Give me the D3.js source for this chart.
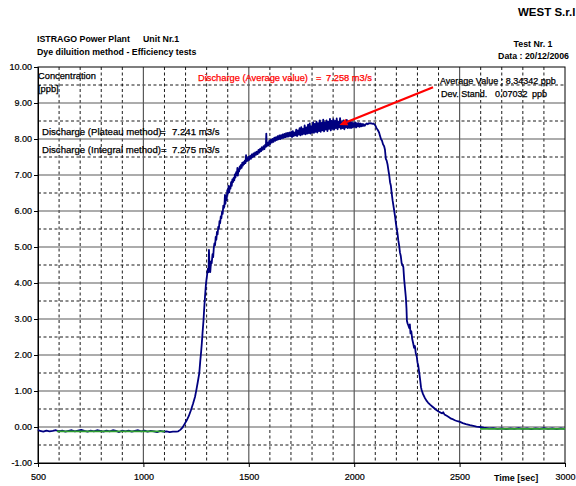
<!DOCTYPE html>
<html><head><meta charset="utf-8">
<script src="https://cdn.jsdelivr.net/npm/d3@7"></script>
<style>
body{margin:0;background:#fff;}
svg{display:block;font-family:"Liberation Sans",Arial,sans-serif;}
</style></head><body>
<svg id="c" width="576" height="486"></svg>
<script>
// ---- Tick labels ----
const xTicks = [500, 1000, 1500, 2000, 2500, 3000];
const yTicks = [-1, 0, 1, 2, 3, 4, 5, 6, 7, 8, 9, 10];

// ---- Measured dye concentration [time sec, ppb] ----
const baselineLeft = [[500,-0.08],[510,-0.11],[525,-0.13],[540,-0.10],[555,-0.12],[570,-0.11],[585,-0.09],[600,-0.12],[615,-0.10],[630,-0.13],[645,-0.11],[660,-0.09],[675,-0.12],[690,-0.10],[705,-0.08],[720,-0.11],[735,-0.13],[750,-0.10],[765,-0.12],[780,-0.09],[795,-0.11],[810,-0.13],[825,-0.10],[840,-0.12],[855,-0.09],[870,-0.11],[885,-0.14],[900,-0.10],[915,-0.12],[930,-0.10],[945,-0.13],[960,-0.11],[975,-0.09],[990,-0.12],[1005,-0.10],[1020,-0.13],[1035,-0.11],[1050,-0.12],[1065,-0.14],[1080,-0.11],[1095,-0.13],[1110,-0.12],[1125,-0.14],[1140,-0.13],[1155,-0.13]];
const rising = [[1165,-0.12],[1175,-0.08],[1185,-0.02],[1195,0.08],[1205,0.18],[1215,0.30],[1225,0.46],[1235,0.64],[1245,0.84],[1252,1.05],[1258,1.25],[1265,1.49],[1270,1.85],[1274,2.10],[1277,2.32],[1281,2.65],[1285,2.95],[1288,3.25],[1292,3.60],[1297,3.99],[1302,4.22],[1306,4.40],[1309,4.30],[1311,4.92],[1313,4.55],[1317,4.30],[1321,4.60],[1324,4.55],[1328,4.80],[1331,4.72],[1334,4.98],[1337,5.10],[1340,5.05],[1343,5.28],[1346,5.20],[1349,5.42],[1352,5.35],[1355,5.56],[1358,5.50],[1361,5.72],[1364,5.66],[1367,5.85],[1370,5.80],[1373,5.98],[1376,5.92],[1379,6.15],[1381,6.08],[1384,6.12],[1387,6.45],[1389,6.20],[1392,6.40],[1395,6.30],[1398,6.58],[1401,6.48],[1404,6.70],[1407,6.52],[1410,6.68],[1413,6.62],[1416,6.80],[1419,6.70],[1422,6.88],[1425,6.80],[1428,6.92],[1431,6.85],[1434,7.02],[1437,6.93],[1440,7.08],[1443,7.00],[1446,7.20],[1448,6.98],[1451,7.15],[1454,7.10],[1457,7.24],[1460,7.17],[1463,7.28],[1466,7.20],[1469,7.34],[1472,7.26],[1475,7.36],[1478,7.30],[1481,7.40],[1484,7.33],[1487,7.55],[1490,7.38],[1493,7.46],[1496,7.40],[1499,7.50],[1502,7.42],[1506,7.53],[1510,7.45],[1514,7.57],[1518,7.49],[1522,7.60],[1526,7.52],[1530,7.63],[1534,7.56],[1538,7.65],[1542,7.58],[1546,7.70],[1550,7.62],[1554,7.73],[1558,7.66],[1562,7.77],[1566,7.70],[1570,7.80],[1574,7.72],[1578,7.84],[1581,7.78],[1583,8.15],[1585,7.80],[1589,7.90],[1593,7.82],[1597,7.95],[1601,7.86],[1605,7.98],[1609,7.90],[1613,8.00],[1617,7.92],[1621,8.04],[1625,7.95],[1629,8.05],[1633,7.97],[1637,8.08],[1641,7.99],[1645,8.10],[1649,8.00],[1653,8.11],[1657,8.02],[1661,8.13],[1665,8.03],[1669,8.14],[1673,8.05],[1677,8.16],[1681,8.06],[1685,8.17],[1689,8.07],[1693,8.18],[1697,8.08]];
const plateau = [[1701,8.20],[1705,8.05],[1709,8.22],[1713,8.08],[1717,8.18],[1721,8.10],[1725,8.26],[1729,8.08],[1733,8.24],[1737,8.12],[1741,8.30],[1745,8.10],[1749,8.33],[1753,8.12],[1757,8.28],[1761,8.14],[1765,8.38],[1769,8.13],[1773,8.32],[1777,8.15],[1781,8.40],[1785,8.16],[1789,8.43],[1793,8.15],[1797,8.36],[1801,8.18],[1805,8.46],[1809,8.17],[1813,8.42],[1817,8.20],[1821,8.48],[1825,8.18],[1829,8.44],[1833,8.22],[1837,8.52],[1841,8.20],[1845,8.45],[1849,8.24],[1853,8.54],[1857,8.21],[1861,8.46],[1865,8.26],[1869,8.52],[1873,8.22],[1877,8.48],[1881,8.28],[1885,8.56],[1889,8.24],[1893,8.50],[1897,8.28],[1901,8.55],[1905,8.26],[1909,8.50],[1913,8.30],[1917,8.57],[1921,8.27],[1925,8.48],[1929,8.32],[1933,8.58],[1937,8.28],[1941,8.47],[1945,8.30],[1949,8.52],[1953,8.27],[1957,8.46],[1961,8.32],[1965,8.53],[1969,8.30],[1973,8.46],[1977,8.31],[1981,8.48],[1985,8.30],[1989,8.47],[1993,8.32],[1997,8.44],[2001,8.34],[2005,8.46],[2009,8.32],[2013,8.44],[2017,8.35],[2021,8.44],[2025,8.34],[2029,8.43],[2033,8.35],[2037,8.42],[2041,8.36],[2045,8.41],[2050,8.37],[2055,8.41],[2060,8.43],[2065,8.41],[2070,8.44],[2075,8.43],[2080,8.44],[2085,8.42],[2090,8.43],[2095,8.41],[2100,8.38]];
const falling = [[2106,8.30],[2112,8.25],[2118,8.18],[2122,8.10],[2127,8.00],[2132,7.95],[2137,7.85],[2142,7.80],[2146,7.70],[2150,7.45],[2154,7.40],[2158,7.30],[2162,7.14],[2166,7.00],[2170,6.80],[2174,6.70],[2178,6.49],[2182,6.30],[2186,6.15],[2190,6.00],[2194,5.84],[2198,5.65],[2202,5.50],[2206,5.35],[2209,5.19],[2213,5.05],[2217,4.85],[2221,4.75],[2225,4.55],[2229,4.50],[2233,4.45],[2237,4.10],[2241,3.85],[2245,3.60],[2248,3.30],[2250,2.95],[2253,2.88],[2257,2.82],[2261,2.75],[2264,2.85],[2267,2.60],[2271,2.66],[2275,2.45],[2280,2.32],[2284,2.20],[2288,2.25],[2292,2.05],[2297,1.95],[2300,1.80],[2304,1.70],[2309,1.49],[2313,1.30],[2317,1.10],[2320,1.03],[2326,0.92],[2334,0.82],[2342,0.74],[2350,0.68],[2360,0.62],[2370,0.57],[2380,0.52],[2390,0.47],[2400,0.43],[2410,0.40],[2418,0.38],[2422,0.41],[2428,0.35],[2439,0.31],[2450,0.27],[2460,0.23],[2470,0.21],[2480,0.18],[2490,0.16],[2502,0.14],[2515,0.11],[2530,0.08],[2549,0.05],[2565,0.03],[2580,0.01],[2597,0.00]];
const tail = [[2615,-0.02],[2640,-0.04],[2660,-0.03],[2680,-0.05],[2700,-0.04],[2720,-0.06],[2740,-0.04],[2760,-0.05],[2780,-0.03],[2800,-0.05],[2820,-0.04],[2840,-0.06],[2860,-0.04],[2880,-0.05],[2900,-0.03],[2920,-0.05],[2940,-0.04],[2960,-0.06],[2980,-0.04],[3000,-0.05]];

// ---- Baseline fits (green) ----
const baseFitLeft = [[590,-0.12],[1102,-0.12]];
const baseFitRight = [[2597,-0.05],[3000,-0.05]];

// ---- Arrow annotation (time, ppb) ----
const arrowFrom = [2374, 9.44];
const arrowTo = [1930, 8.39];

const svg = d3.select("#c");
const x = d3.scaleLinear().domain([500, 3000]).range([38, 565]);
const y = d3.scaleLinear().domain([-1, 10]).range([463, 67]);

const g = svg.append("g");
// minor dashed grid
const xMinor = d3.range(600, 3000, 100).filter(d => d % 500 !== 0);
const yMinor = d3.range(-0.5, 10, 1);
g.selectAll(".vx").data(xMinor).join("line")
  .attr("x1", d => x(d)).attr("x2", d => x(d)).attr("y1", y(10)).attr("y2", y(-1))
  .attr("stroke", "#000").attr("stroke-width", 0.9).attr("stroke-dasharray", "3,2.5");
g.selectAll(".hy").data(yMinor).join("line")
  .attr("y1", d => y(d)).attr("y2", d => y(d)).attr("x1", x(500)).attr("x2", x(3000))
  .attr("stroke", "#000").attr("stroke-width", 0.9).attr("stroke-dasharray", "3,2.5");
// major solid grid
g.selectAll(".vX").data(xTicks.slice(1, -1)).join("line")
  .attr("x1", d => x(d)).attr("x2", d => x(d)).attr("y1", y(10)).attr("y2", y(-1))
  .attr("stroke", "#5a5a5a").attr("stroke-width", 1.2);
g.selectAll(".hY").data(yTicks.slice(1, -1)).join("line")
  .attr("y1", d => y(d)).attr("y2", d => y(d)).attr("x1", x(500)).attr("x2", x(3000))
  .attr("stroke", "#5a5a5a").attr("stroke-width", 1.2);
// frame
g.append("rect").attr("x", x(500)).attr("y", y(10)).attr("width", x(3000) - x(500)).attr("height", y(-1) - y(10))
  .attr("fill", "none").attr("stroke", "#000").attr("stroke-width", 1);

// axes
const fmt = d => d.toFixed(2).replace("\u2212", "-");
const ya = svg.append("g").attr("transform", `translate(${x(500)},0)`)
  .call(d3.axisLeft(y).tickValues(yTicks).tickSize(4).tickPadding(2).tickFormat(fmt));
const xa = svg.append("g").attr("transform", `translate(0,${y(-1)})`)
  .call(d3.axisBottom(x).tickValues(xTicks).tickSize(4).tickPadding(7).tickFormat(d3.format("d")));
[ya, xa].forEach(a => {
  a.select(".domain").attr("stroke", "#000");
  a.selectAll("text").attr("font-size", 9).attr("fill", "#000")
    .attr("stroke", "#000").attr("stroke-width", 0.2)
    .attr("font-family", '"Liberation Sans",Arial,sans-serif');
});

// curve
const line = d3.line().x(d => x(d[0])).y(d => y(d[1]));
const series = [].concat(baselineLeft, rising, plateau, falling, tail);
svg.append("path").datum(series).attr("d", line)
  .attr("fill", "none").attr("stroke", "#000080").attr("stroke-width", 1.8).attr("stroke-linejoin", "round");
[baseFitLeft, baseFitRight].forEach(s => svg.append("path").datum(s).attr("d", line)
  .attr("fill", "none").attr("stroke", "#2f9e2f").attr("stroke-width", 1.8));

// arrow
const ax0 = x(arrowFrom[0]), ay0 = y(arrowFrom[1]), ax1 = x(arrowTo[0]), ay1 = y(arrowTo[1]);
const ang = Math.atan2(ay1 - ay0, ax1 - ax0);
const hl = 8, hw = 3.5;
const bx = ax1 - hl * Math.cos(ang), by = ay1 - hl * Math.sin(ang);
svg.append("line").attr("x1", ax0).attr("y1", ay0).attr("x2", bx).attr("y2", by)
  .attr("stroke", "#ff0000").attr("stroke-width", 2.2);
svg.append("path").attr("d", `M${ax1},${ay1}L${bx + hw * Math.sin(ang)},${by - hw * Math.cos(ang)}L${bx - hw * Math.sin(ang)},${by + hw * Math.cos(ang)}Z`)
  .attr("fill", "#ff0000");

// texts
function txt(s, px, py, opt = {}) {
  const fill = opt.fill || "#000";
  svg.append("text").attr("x", px).attr("y", py).text(s)
    .attr("font-size", opt.size || 9.3)
    .attr("font-weight", opt.bold ? "bold" : "normal")
    .attr("fill", fill)
    .attr("stroke", opt.bold ? "none" : fill).attr("stroke-width", 0.25)
    .attr("text-anchor", opt.anchor || "start");
}
txt("WEST  S.r.l", 518, 16, {bold: true, size: 11.5});
txt("ISTRAGO Power Plant", 37, 42, {bold: true, size: 8.8});
txt("Unit Nr.1", 143, 42, {bold: true, size: 8.8});
txt("Dye diluition method - Efficiency tests", 37, 55, {bold: true, size: 8.8});
txt("Test Nr. 1", 533, 47, {bold: true, size: 8.8, anchor: "middle"});
txt("Data : 20/12/2006", 569, 59, {bold: true, size: 8.8, anchor: "end"});
txt("Concentration", 38, 79);
txt("[ppb]", 38, 92);
txt("Discharge (Average value)", 198, 81, {fill: "#ff0000"});
txt("=", 316, 81, {fill: "#ff0000"});
txt("7.258 m3/s", 326, 81, {fill: "#ff0000"});
txt("Average Value : 8.34342 ppb", 440, 84, {size: 9});
txt("Dev. Stand.", 441, 97, {size: 9});
txt("0.07032", 495, 97, {size: 9});
txt("ppb", 532, 97, {size: 9});
txt("Discharge (Plateau method)", 42, 135, {size: 9.6});
txt("=", 160, 135, {size: 9.6});
txt("7.241 m3/s", 172, 135, {size: 9.6});
txt("Discharge (Integral method)", 42, 153, {size: 9.6});
txt("=", 161, 153, {size: 9.6});
txt("7.275 m3/s", 172, 153, {size: 9.6});
txt("Time [sec]", 494, 481, {bold: true, size: 9});
</script>
</body></html>
